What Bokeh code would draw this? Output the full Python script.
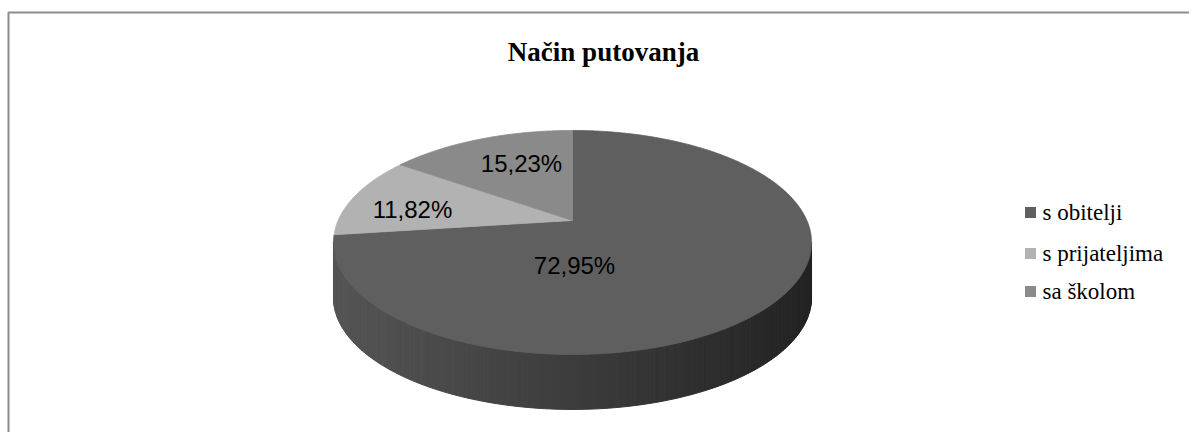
import numpy as np
from bokeh.plotting import figure
from bokeh.models import Range1d
from bokeh.embed import file_html
from bokeh.resources import INLINE
from bokeh.core.properties import value

# ---- data ----
title = "Način putovanja"
categories = ["s obitelji", "s prijateljima", "sa školom"]
shares = [72.95, 11.82, 15.23]
pct_labels = ["72,95%", "11,82%", "15,23%"]
colors = ["#5f5f5f", "#b2b2b2", "#8a8a8a"]

# ---- layout ----
W, H = 1189, 432
CX, CY = 572, 220          # pie apex (screen px)
A, B, E = 234.4, 107.7, 0.196   # perspective-projected disk
DEPTH = 55
label_pos = [(574, 265), (412, 209), (521, 163)]
legend_x, legend_y = 1030, [212, 253, 291]

p = figure(width=W, height=H, x_range=Range1d(0, W), y_range=Range1d(H, 0),
           output_backend="svg", toolbar_location=None, min_border=0)
p.axis.visible = False
p.grid.visible = False
p.outline_line_color = None
p.background_fill_color = "white"
p.border_fill_color = "white"


def proj(phi_deg, r=1.0):
    phi = np.radians(phi_deg)
    u = r * np.cos(phi)
    v = r * np.sin(phi)
    d = 1 - E * v
    return CX + A * u / d, CY + B * v / d


# frame border
p.line([8, 8, W], [H, 12, 12], line_color="#8c8c8c", line_width=2)

# side of the pie (front half), gradient strips
phiR = np.degrees(np.arcsin(E))
phiL = 180 - phiR
n = 160
ph = np.linspace(phiR, phiL, n + 1)
xs_side, ys_side, cols = [], [], []
xt, yt = proj(ph)
xmin, xmax = xt.min(), xt.max()
for i in range(n):
    x0, x1 = xt[i], xt[i + 1]
    y0, y1 = yt[i], yt[i + 1]
    xs_side.append([x0, x1, x1, x0])
    ys_side.append([y0, y1, y1 + DEPTH, y0 + DEPTH])
    t = ((x0 + x1) / 2 - xmin) / (xmax - xmin)
    g = int(round(0x55 + (0x23 - 0x55) * t))
    cols.append("#%02x%02x%02x" % (g, g, g))
p.patches(xs_side, ys_side, fill_color=cols, line_color=cols, line_width=1)

# top face slices
total = sum(shares)
start = -90.0
xs_top, ys_top = [], []
for s in shares:
    end = start + 360.0 * s / total
    a = np.linspace(start, end, max(int(abs(end - start)) * 2, 4))
    x, y = proj(a)
    xs_top.append([CX] + list(x))
    ys_top.append([CY] + list(y))
    start = end
p.patches(xs_top, ys_top, fill_color=colors, line_color=colors, line_width=0.8)

# percent labels
p.text(x=[q[0] for q in label_pos], y=[q[1] for q in label_pos], text=pct_labels,
       text_font=value("Liberation Sans"), text_font_size="24px", text_color="#000000",
       text_align="center", text_baseline="middle")

# title
p.text(x=[603], y=[51], text=[title], text_font=value("Liberation Serif"),
       text_font_size="27px", text_font_style="bold", text_color="#000000",
       text_align="center", text_baseline="middle")

# legend
p.rect(x=[legend_x] * 3, y=legend_y, width=11, height=11, fill_color=colors, line_color=None)
p.text(x=[legend_x + 12] * 3, y=legend_y, text=categories, text_font=value("Liberation Serif"),
       text_font_size="23px", text_color="#000000", text_align="left", text_baseline="middle")

open("out.html", "w").write(file_html(p, INLINE))
